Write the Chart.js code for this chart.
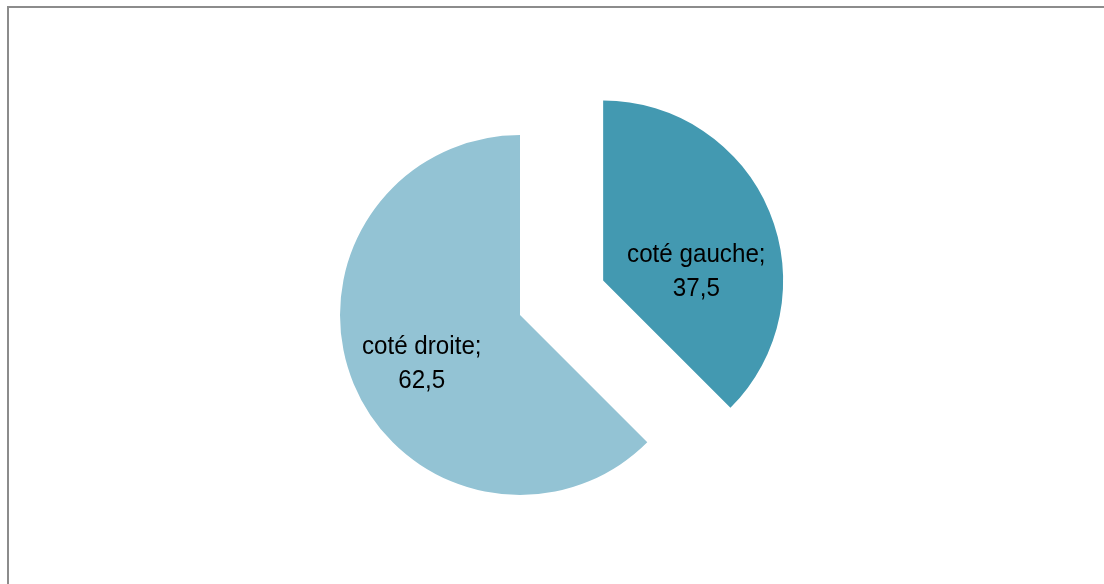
<!DOCTYPE html>
<html>
<head>
<meta charset="utf-8">
<script src="https://cdn.jsdelivr.net/npm/chart.js@4"></script>
<style>
    html, body { margin: 0; padding: 0; background: #fff; }
    #cadre {
        position: absolute; left: 7px; top: 6px;
        width: 1200px; height: 700px;
        border-left: 2px solid #8c8c8c;
        border-top: 2px solid #8c8c8c;
    }
    #pieChart { position: absolute; left: 0; top: 0; }
</style>
</head>
<body>
<div id="cadre"></div>
<canvas id="pieChart" width="1104" height="584"></canvas>
<script>
// Répartition des côtés
const categories = ['coté gauche', 'coté droite'];
const valeurs = [37.5, 62.5];
const couleurs = ['#4399b1', '#93c3d4'];

// Écartement de la part (en px) le long de sa bissectrice
const ecartement = [90, 0];

const explodePlugin = {
    id: 'explode',
    afterDatasetUpdate(chart, args) {
        args.meta.data.forEach((arc, i) => {
            const d = ecartement[i] || 0;
            const mid = (arc.startAngle + arc.endAngle) / 2;
            arc.x += Math.cos(mid) * d;
            arc.y += Math.sin(mid) * d;
        });
    }
};

// Étiquettes "catégorie; valeur" dans chaque part (police un peu condensée)
const labelPlugin = {
    id: 'etiquettes',
    afterDatasetsDraw(chart, args, opts) {
        const ctx = chart.ctx;
        const meta = chart.getDatasetMeta(0);
        meta.data.forEach((arc, i) => {
            const mid = (arc.startAngle + arc.endAngle) / 2 + opts.angles[i] * Math.PI / 180;
            const r = arc.outerRadius * opts.ratios[i];
            const x = arc.x + Math.cos(mid) * r;
            const y = arc.y + Math.sin(mid) * r;
            const texte = String(valeurs[i]).replace('.', ',');
            ctx.save();
            ctx.translate(x, y);
            ctx.scale(opts.condense, 1);
            ctx.font = opts.font;
            ctx.fillStyle = opts.color;
            ctx.textAlign = 'center';
            ctx.textBaseline = 'middle';
            ctx.fillText(categories[i] + ';', 0, -opts.lineHeight / 2);
            ctx.fillText(texte, 0, opts.lineHeight / 2);
            ctx.restore();
        });
    }
};

const ctx = document.getElementById('pieChart').getContext('2d');
const pieChart = new Chart(ctx, {
    type: 'pie',
    data: {
        labels: categories,
        datasets: [{
            data: valeurs,
            backgroundColor: couleurs,
            borderWidth: 0
        }]
    },
    options: {
        responsive: false,
        animation: false,
        layout: {
            padding: { left: 340, right: 404, top: 135, bottom: 89 }
        },
        plugins: {
            legend: { display: false },
            tooltip: { enabled: false },
            etiquettes: {
                font: '26px "Liberation Sans", Arial, sans-serif',
                color: '#000',
                condense: 0.93,
                lineHeight: 34,
                angles: [17, -4],
                ratios: [0.52, 0.61]
            }
        }
    },
    plugins: [explodePlugin, labelPlugin]
});
</script>
</body>
</html>
